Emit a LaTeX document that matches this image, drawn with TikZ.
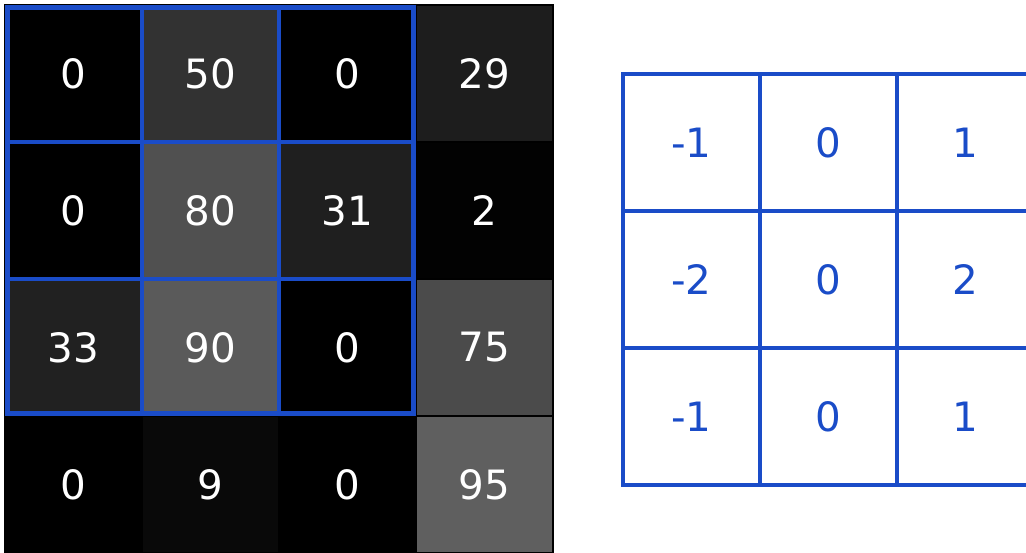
\documentclass[tikz,border=0pt]{standalone}
\usepackage{fontspec}
\setmainfont{DejaVu Sans}
\usepackage{xcolor}
\usetikzlibrary{positioning}
\definecolor{KernelBlue}{HTML}{1A4CC8}
\tikzset{
    pixel/.style={
        draw=black,
        line width=0.7pt,
        fill={rgb,255:red,#1;green,#1;blue,#1},
        minimum size=1.37cm,
        inner sep=0pt,
        outer sep=0pt,
        text=white,
        font=\fontsize{11.5}{13}\selectfont
    },
    pixel/.default=0,
    weight/.style={
        draw=KernelBlue,
        line width=1.1pt,
        fill=white,
        minimum size=1.37cm,
        inner sep=0pt,
        outer sep=0pt,
        text=KernelBlue,
        font=\fontsize{11.5}{13}\selectfont
    },
    window/.style={
        draw=KernelBlue,
        line width=1.3pt
    }
}
\begin{document}
\begin{tikzpicture}
        \useasboundingbox (0,0) rectangle (10.26,-5.52);

        % Input image
        \node[pixel=0]  (p11) at (0.735,-0.735) {0};
        \node[pixel=50] (p12) at (2.105,-0.735) {50};
        \node[pixel=0]  (p13) at (3.475,-0.735) {0};
        \node[pixel=29] (p14) at (4.845,-0.735) {29};
        \node[pixel=0]  (p21) at (0.735,-2.105) {0};
        \node[pixel=80] (p22) at (2.105,-2.105) {80};
        \node[pixel=31] (p23) at (3.475,-2.105) {31};
        \node[pixel=2]  (p24) at (4.845,-2.105) {2};
        \node[pixel=33] (p31) at (0.735,-3.475) {33};
        \node[pixel=90] (p32) at (2.105,-3.475) {90};
        \node[pixel=0]  (p33) at (3.475,-3.475) {0};
        \node[pixel=75] (p34) at (4.845,-3.475) {75};
        \node[pixel=0]  (p41) at (0.735,-4.845) {0};
        \node[pixel=9]  (p42) at (2.105,-4.845) {9};
        \node[pixel=0]  (p43) at (3.475,-4.845) {0};
        \node[pixel=95] (p44) at (4.845,-4.845) {95};

        % Sliding window over the top-left 3x3 patch
        \draw[window] ([shift={(0.025,-0.025)}]p11.north west) rectangle ([shift={(-0.025,0.025)}]p33.south east);
        \draw[window] (p12.north west) -- (p32.south west);
        \draw[window] (p13.north west) -- (p33.south west);
        \draw[window] (p21.north west) -- (p23.north east);
        \draw[window] (p31.north west) -- (p33.north east);

        % Kernel
        \node[weight] (k11) at (6.915,-1.425) {-1};
        \node[weight] (k12) at (8.285,-1.425) {0};
        \node[weight] (k13) at (9.655,-1.425) {1};
        \node[weight] (k21) at (6.915,-2.795) {-2};
        \node[weight] (k22) at (8.285,-2.795) {0};
        \node[weight] (k23) at (9.655,-2.795) {2};
        \node[weight] (k31) at (6.915,-4.165) {-1};
        \node[weight] (k32) at (8.285,-4.165) {0};
        \node[weight] (k33) at (9.655,-4.165) {1};
    \end{tikzpicture}
\end{document}
